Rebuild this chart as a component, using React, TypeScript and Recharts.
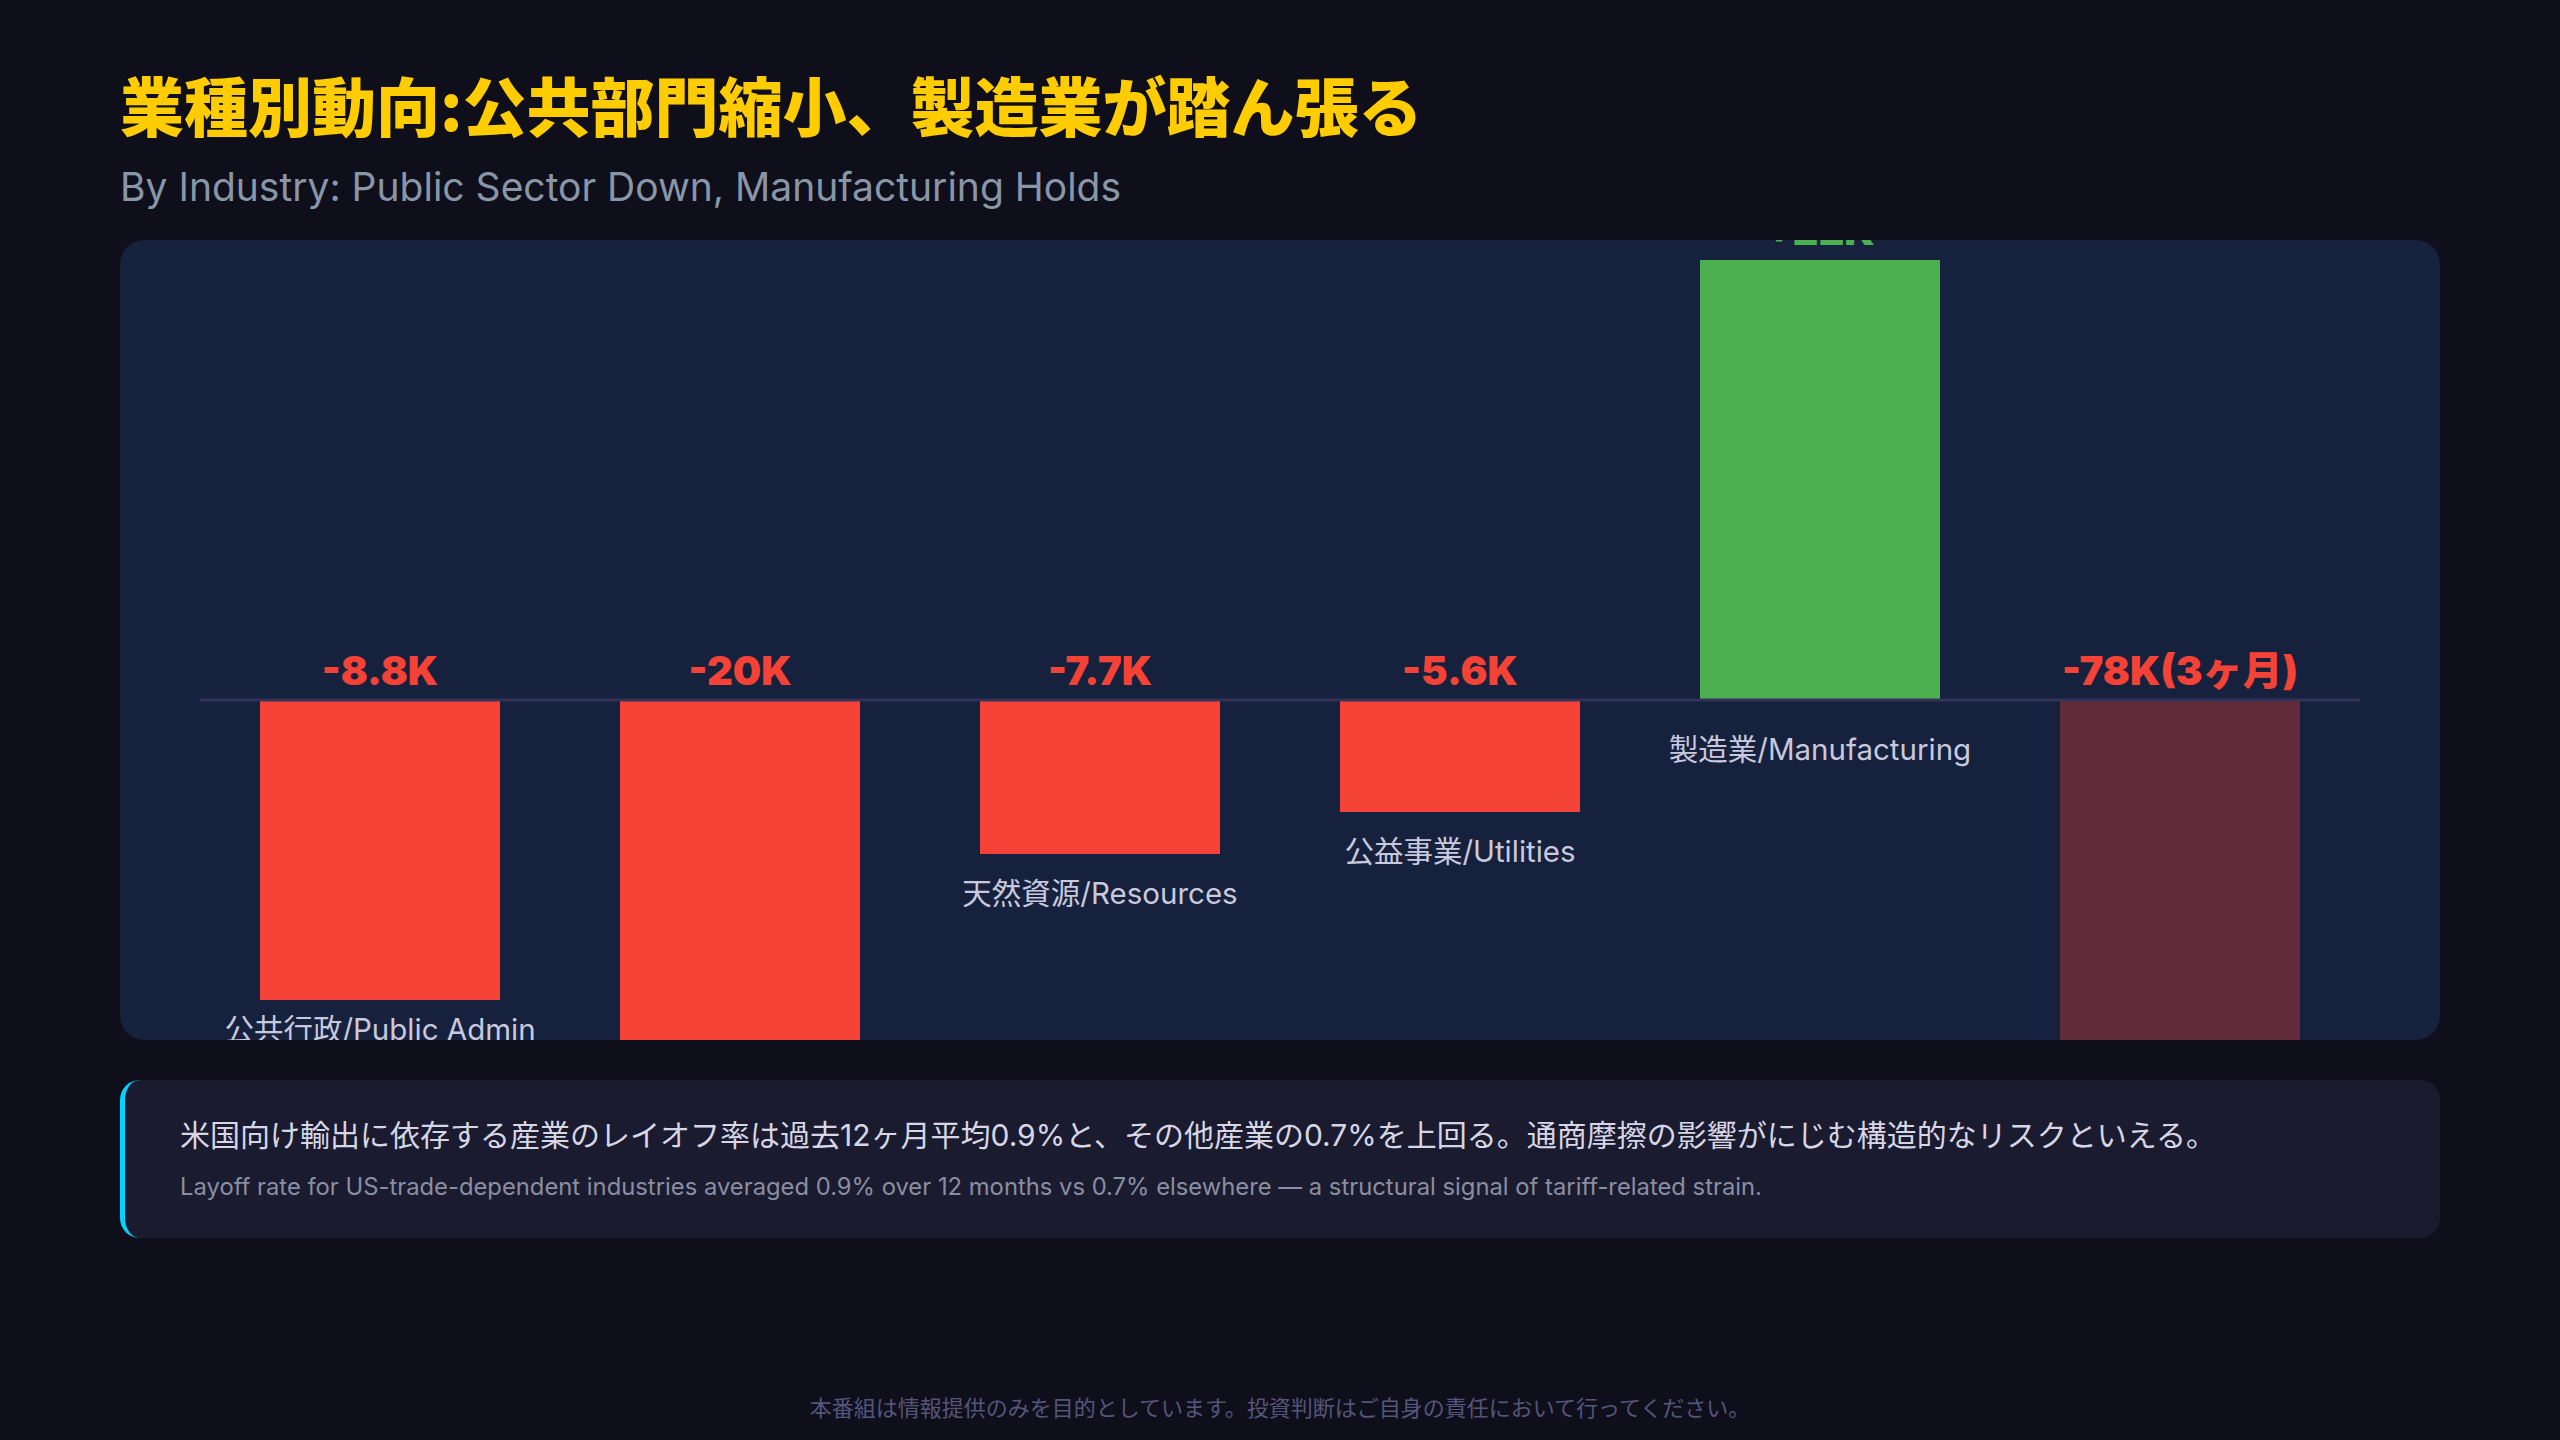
import React from 'react';
import { BarChart, Bar, XAxis, YAxis, Cell, ReferenceLine, LabelList } from 'recharts';

// bar heights as drawn (thousands of jobs); labels are the printed figures
const categories = ['公共行政/Public Admin', '', '天然資源/Resources', '公益事業/Utilities', '製造業/Manufacturing', ''];
const barValues = [-15, -20, -7.7, -5.6, 22, -78];
const valueLabels = ['-8.8K', '-20K', '-7.7K', '-5.6K', '+22K', '-78K(3ヶ月)'];
const periods = ['1m', '1m', '1m', '1m', '1m', '3m'];
const yDomain = [-17, 23];

const RED = '#F44336';
const GREEN = '#4CAF50';
const CHART_W = 2320;
const CHART_H = 800;

const data = categories.map((name, i) => ({
  name,
  value: barValues[i],
  label: valueLabels[i],
  period: periods[i],
}));

const box = (p: any) => {
  const vb = p.viewBox || {};
  const x = p.x ?? vb.x;
  const y = p.y ?? vb.y;
  const w = p.width ?? vb.width;
  const h = p.height ?? vb.height;
  return { x, w, top: Math.min(y, y + h), bottom: Math.max(y, y + h) };
};

const ValueLabel = (p: any) => {
  const { x, w, top } = box(p);
  const d = data[p.index];
  if (!d) return null;
  return (
    <text
      x={x + w / 2}
      y={top - 15}
      textAnchor="middle"
      fill={d.value >= 0 ? GREEN : RED}
      fontFamily='Inter, "Noto Sans CJK JP", sans-serif'
      fontWeight={900}
      fontSize={40}
    >
      {d.label}
    </text>
  );
};

const CategoryLabel = (p: any) => {
  const { x, w, bottom } = box(p);
  const d = data[p.index];
  if (!d || !d.name) return null;
  const y = d.value >= 0 ? bottom + 60 : Math.min(bottom + 50, CHART_H);
  return (
    <text
      x={x + w / 2}
      y={y}
      textAnchor="middle"
      fill="#c9c9dd"
      fontFamily='Inter, "Noto Sans CJK JP", sans-serif'
      fontSize={29.5}
    >
      {d.name}
    </text>
  );
};

export default function App() {
  return (
    <div
      style={{
        position: 'fixed',
        left: 0,
        top: 0,
        width: 2560,
        height: 1440,
        background: '#0f0f1c',
        overflow: 'hidden',
      }}
    >
      <div
        style={{
          position: 'absolute',
          left: 120,
          top: 71,
          fontFamily: '"Noto Sans CJK JP", sans-serif',
          fontWeight: 900,
          fontSize: 64,
          lineHeight: '64px',
          color: '#FFCC00',
          whiteSpace: 'nowrap',
        }}
      >
        業種別動向:公共部門縮小、製造業が踏ん張る
      </div>
      <div
        style={{
          position: 'absolute',
          left: 120,
          top: 167,
          fontFamily: 'Inter, sans-serif',
          fontSize: 39,
          lineHeight: '39px',
          color: '#8896a8',
          whiteSpace: 'nowrap',
        }}
      >
        By Industry: Public Sector Down, Manufacturing Holds
      </div>

      <div
        style={{
          position: 'absolute',
          left: 120,
          top: 240,
          width: CHART_W,
          height: CHART_H,
          background: '#16213e',
          borderRadius: 24,
          overflow: 'hidden',
        }}
      >
        <BarChart
          width={CHART_W}
          height={CHART_H}
          data={data}
          margin={{ top: 0, right: 80, bottom: 0, left: 80 }}
        >
          <XAxis dataKey="name" hide />
          <YAxis hide domain={yDomain} allowDataOverflow />
          <ReferenceLine y={0} stroke="#33335a" strokeWidth={3} />
          <Bar dataKey="value" barSize={240} isAnimationActive={false}>
            {data.map((d, i) => (
              <Cell
                key={i}
                fill={d.value >= 0 ? GREEN : RED}
                fillOpacity={d.period === '3m' ? 0.35 : 1}
              />
            ))}
            <LabelList dataKey="label" content={ValueLabel} />
            <LabelList dataKey="name" content={CategoryLabel} />
          </Bar>
        </BarChart>
      </div>

      <div
        style={{
          position: 'absolute',
          left: 120,
          top: 1080,
          width: 2320,
          height: 158,
          boxSizing: 'border-box',
          background: '#1a1b2e',
          borderRadius: 20,
          borderLeft: '5px solid #00d4ff',
        }}
      >
        <div
          style={{
            position: 'absolute',
            left: 55,
            top: 40,
            fontFamily: 'Inter, "Noto Sans CJK JP", sans-serif',
            fontSize: 30,
            lineHeight: '30px',
            color: '#d6d6e6',
            whiteSpace: 'nowrap',
          }}
        >
          米国向け輸出に依存する産業のレイオフ率は過去12ヶ月平均0.9%と、その他産業の0.7%を上回る。通商摩擦の影響がにじむ構造的なリスクといえる。
        </div>
        <div
          style={{
            position: 'absolute',
            left: 55,
            top: 95,
            fontFamily: 'Inter, sans-serif',
            fontSize: 23.8,
            lineHeight: '24px',
            color: '#8a8ea3',
            whiteSpace: 'nowrap',
          }}
        >
          Layoff rate for US-trade-dependent industries averaged 0.9% over 12 months vs 0.7% elsewhere — a structural signal of tariff-related strain.
        </div>
      </div>

      <div
        style={{
          position: 'absolute',
          left: 0,
          top: 1395,
          width: 2560,
          textAlign: 'center',
          fontFamily: '"Noto Sans CJK JP", sans-serif',
          fontSize: 22,
          lineHeight: '22px',
          color: '#55557a',
        }}
      >
        本番組は情報提供のみを目的としています。投資判断はご自身の責任において行ってください。
      </div>
    </div>
  );
}
